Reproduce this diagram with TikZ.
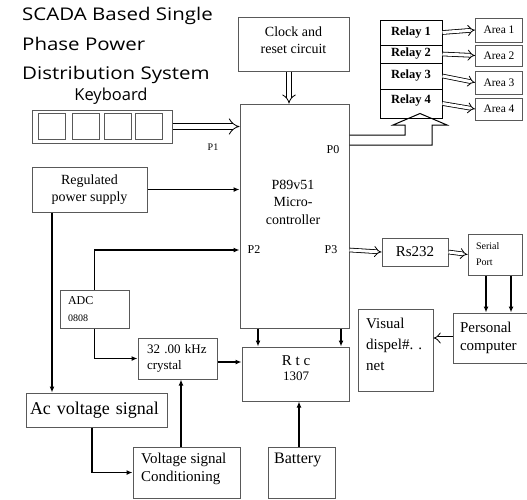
\documentclass[tikz,border=0pt]{standalone}
\usepackage{fontspec}
\setmainfont{Liberation Serif}
\newfontfamily\titlefont{Open Sans}
\newfontfamily\widetitlefont{Open Sans}[FakeStretch=1.17]
\usepackage{tikz}
\usetikzlibrary{arrows.meta, positioning, calc}

\newcommand{\fs}[2]{\fontsize{#1}{#2}\selectfont}

\tikzset{
  blk/.style={draw=black!65, line width=1pt, align=center, inner sep=2pt, font=\fs{14}{17}},
  lblk/.style={blk, align=left, inner ysep=0pt},
  txt/.style={anchor=west, align=left, inner sep=0pt},
  wire/.style={line width=1.4pt, -{Latex[length=6pt,width=5pt]}},
  hollow/.style={double, double distance=3pt, line width=0.8pt, -{Implies}},
  port/.style={font=\fs{12}{13}}
}

\begin{document}
\begin{tikzpicture}[x=1pt, y=-1pt]
\useasboundingbox (0,0) rectangle (527,499);

% Title
\node[anchor=north west, align=left, inner sep=0pt,
  font=\widetitlefont\fs{17.5}{29.5}] (title) at (22,7)
  {SCADA Based Single\\Phase Power\\Distribution System};
\node[font=\titlefont\fs{16.5}{18}] (kbdlbl) at (111,96) {Keyboard};

% Keyboard
\node[blk, minimum width=140pt, minimum height=33pt] (kbd) at (102,126.5) {};
\foreach \i/\cx in {1/52,2/86,3/118,4/149}
  \node[draw=black!65, line width=1pt, minimum width=27pt, minimum height=26pt,
    inner sep=0pt] (key\i) at (\cx,126.5) {};

% Clock and micro-controller
\node[blk, minimum width=111pt, minimum height=54pt, text depth=8pt] (clk) at (293.5,44)
  {Clock and\\reset circuit};
\node[blk, minimum width=109pt, minimum height=224pt] (mcu) at (294.5,216) {};
\node[font=\fs{14}{17.5}, align=center] (mculbl) at (293,202) {P89v51\\Micro-\\controller};
\node[port] (p0) at (333,150) {P0};
\node[port, font=\fs{10}{11}] (p1) at (213,147) {P1};
\node[port] (p2) at (254,250) {P2};
\node[port] (p3) at (331,250) {P3};

% Relays and areas
\tikzset{relay/.style={draw=black, line width=1pt, minimum width=62pt, inner sep=0pt,
  font=\bfseries\fs{12.5}{13}},
  area/.style={blk, minimum width=47pt, inner sep=0pt, font=\fs{11.5}{12}}}
\node[relay, minimum height=25pt] (r1) at (411,32.5) {Relay 1};
\node[relay, minimum height=18pt] (r2) at (411,54) {Relay 2};
\node[relay, minimum height=26pt] (r3) at (411,76) {Relay 3};
\node[relay, minimum height=29pt, text depth=8pt] (r4) at (411,103.5) {Relay 4};
\node[area, minimum height=24pt] (a1) at (499,30) {Area 1};
\node[area, minimum height=21pt] (a2) at (499,55.5) {Area 2};
\node[area, minimum height=23pt] (a3) at (499,82.5) {Area 3};
\node[area, minimum height=22pt] (a4) at (499,109) {Area 4};
\foreach \i in {1,...,4}
  \draw[hollow] (r\i.east) -- (a\i.west);

% Left side blocks
\node[blk, minimum width=115pt, minimum height=45pt] (rps) at (89.5,189.5)
  {Regulated\\power supply};
\node[lblk, inner xsep=8pt, text width=53pt, minimum height=38pt] (adc) at (94.5,309)
  {\fs{12}{14}ADC\\\fs{10}{12}0808};
\node[lblk, inner xsep=9pt, text width=61pt, minimum height=41pt, font=\fs{13}{16}]
  (xtal) at (177.5,358.5) {32 .00 kHz\\crystal};
\node[blk, minimum width=107pt, minimum height=54pt] (rtc) at (295.5,374) {};
\node[align=center, inner sep=0pt, font=\fs{15}{15}] (rtctxt) at (296,368)
  {R t c\\\fs{13}{15}1307};
\node[lblk, inner xsep=4pt, text width=133pt, minimum height=34pt, font=\fs{18}{20}]
  (ac) at (96.5,410) {Ac voltage signal};
\node[blk, minimum width=107pt, minimum height=51pt] (vsc) at (186.5,472.5) {};
\node[txt, font=\fs{15}{18}] (vsctxt) at (141,469) {Voltage signal\\Conditioning};
\node[blk, minimum width=67pt, minimum height=51pt] (bat) at (301.5,472.5) {};
\node[txt, font=\fs{16}{18}] (battxt) at (274,460) {Battery};

% Right side blocks
\node[blk, minimum width=66pt, minimum height=28pt, font=\fs{15}{16}] (rs) at (415,252) {Rs232};
\node[lblk, inner xsep=8pt, text width=38pt, minimum height=41pt, font=\fs{10}{16}]
  (sp) at (495,254.5) {Serial\\Port};
\node[lblk, inner xsep=7pt, text width=60pt, minimum height=50pt, font=\fs{15}{18}]
  (pc) at (490,338) {Personal\\computer};
\node[blk, minimum width=75pt, minimum height=82pt] (vis) at (395.5,350) {};
\node[txt, font=\fs{15}{21}] (vistxt) at (366,344) {Visual\\dispel\#. .\\net};

% Connectors
\draw[hollow, double distance=5pt] (kbd.east) -- (kbd.east -| mcu.west);
\draw[hollow, double distance=4pt] (clk.south -| 289,0) -- (mcu.north -| 289,0);
\draw[wire] (rps.east) -- (rps.east -| mcu.west);
\draw[wire] (adc.north) |- (p2.west -| mcu.west);
\draw[wire] (rps.south -| 52,0) -- (ac.north -| 52,0);
\draw[wire] (adc.south) |- (xtal.west);
\draw[wire] (xtal.east |- 0,362) -- (rtc.west |- 0,362);
\draw[wire] (mcu.south -| 258,0) -- (rtc.north -| 258,0);
\draw[wire] (mcu.south -| 341,0) -- (rtc.north -| 341,0);
\draw[wire] (ac.south -| 92,0) |- (vsc.west);
\draw[wire] (vsc.north -| 181,0) -- (xtal.south -| 181,0);
\draw[wire] (bat.north -| 299,0) -- (rtc.south -| 299,0);
\draw[hollow] (p3.east -| mcu.east) -- (rs.west);
\draw[hollow] (rs.east) -- (sp.west);
\draw[wire] (sp.south -| 486,0) -- (pc.north -| 486,0);
\draw[wire] (sp.south -| 511,0) -- (pc.north -| 511,0);
\draw[hollow] (pc.west) -- (vis.east |- pc.west);

% P0 to relays
\coordinate (tip) at ($(r4.south)+(9,-5)$);
\draw[line width=1pt] (mcu.east |- 0,135) -| (405,125) -- (393,125) -- (tip)
  -- (447,125) -- (432,125) |- (mcu.east |- 0,145);
\end{tikzpicture}
\end{document}
